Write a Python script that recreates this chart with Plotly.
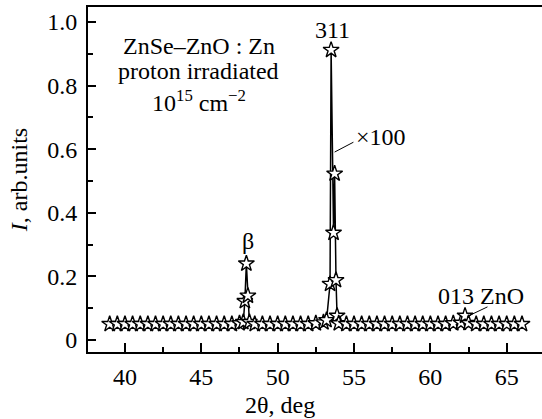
import plotly.graph_objects as go

# ---- data ----
theta = [39.0, 39.5, 40.0, 40.5, 41.0, 41.5, 42.0, 42.5, 43.0, 43.5, 44.0, 44.5,
         45.0, 45.5, 46.0, 46.5, 47.0, 47.5, 47.75, 47.85, 47.95, 48.05, 48.15,
         48.5, 49.0, 49.5, 50.0, 50.5, 51.0, 51.5, 52.0, 52.5, 53.0, 53.2,
         53.43, 53.5, 53.66, 53.73, 53.82, 53.89, 54.0, 54.5, 55.0, 55.5, 56.0,
         56.5, 57.0, 57.5, 58.0, 58.5, 59.0, 59.5, 60.0, 60.5, 61.0, 61.5, 62.0,
         62.27, 62.5, 63.0, 63.5, 64.0, 64.5, 65.0, 65.5, 66.0]
intensity = [0.050, 0.050, 0.050, 0.050, 0.050, 0.050, 0.050, 0.050, 0.050, 0.050, 0.050, 0.050,
             0.050, 0.050, 0.050, 0.050, 0.050, 0.052, 0.056, 0.122, 0.240, 0.139, 0.056,
             0.050, 0.050, 0.050, 0.050, 0.050, 0.050, 0.050, 0.050, 0.052, 0.055, 0.062,
             0.176, 0.912, 0.337, 0.523, 0.188, 0.076, 0.052, 0.050, 0.050, 0.050, 0.050,
             0.050, 0.050, 0.050, 0.050, 0.050, 0.050, 0.050, 0.050, 0.050, 0.050, 0.052, 0.054,
             0.076, 0.053, 0.050, 0.050, 0.050, 0.050, 0.050, 0.050, 0.050]

x_ticks = [40, 45, 50, 55, 60, 65]
y_ticks = [0, 0.2, 0.4, 0.6, 0.8, 1.0]
y_ticktext = ["0", "0.2", "0.4", "0.6", "0.8", "1.0"]

FONT = "'Liberation Serif', 'Times New Roman', Times, 'DejaVu Serif', serif"
FS = 24

fig = go.Figure()
fig.add_trace(go.Scatter(
    x=theta, y=intensity, mode="lines+markers",
    line=dict(color="black", width=1.5),
    marker=dict(symbol="star", size=12, color="white",
                line=dict(color="black", width=1.4)),
    showlegend=False, cliponaxis=False,
))

fig.update_xaxes(
    range=[37.58, 67.31], tickvals=x_ticks, ticks="inside", ticklen=9,
    tickwidth=1.5, tickcolor="black", ticklabelstandoff=2,
    minor=dict(dtick=2.5, tick0=40, ticks="inside", ticklen=5, tickwidth=1.5, tickcolor="black"),
    showline=True, linecolor="black", linewidth=2, mirror=True,
    showgrid=False, zeroline=False,
    tickfont=dict(family=FONT, size=FS, color="black"),
)
fig.update_yaxes(
    range=[-0.0379, 1.0473], tickvals=y_ticks, ticktext=y_ticktext,
    ticks="inside", ticklen=8, tickwidth=1.5, tickcolor="black", ticklabelstandoff=4,
    minor=dict(dtick=0.1, tick0=0, ticks="inside", ticklen=5, tickwidth=1.5, tickcolor="black"),
    showline=True, linecolor="black", linewidth=2, mirror=False,
    showgrid=False, zeroline=False,
    tickfont=dict(family=FONT, size=FS, color="black"),
)

def ann(text, x, y, **kw):
    d = dict(text=text, x=x, y=y, xref="x", yref="y", showarrow=False,
             xanchor="center", yanchor="middle",
             font=dict(family=FONT, size=FS, color="black"))
    d.update(kw)
    fig.add_annotation(**d)

ann("ZnSe–ZnO : Zn", 44.83, 0.925)
ann("proton irradiated", 44.83, 0.845)
ann("10<sup>15</sup> cm<sup>−2</sup>", 44.83, 0.752)
ann("311", 53.59, 0.975)
ann("β", 48.05, 0.312)
ann("×100", 56.77, 0.638)
ann("013 ZnO", 63.29, 0.139)

fig.add_shape(type="line", x0=53.73, y0=0.591, x1=54.96, y1=0.622, xref="x", yref="y",
              line=dict(color="black", width=1))
fig.add_shape(type="line", x0=62.5, y0=0.0757, x1=63.74, y1=0.104, xref="x", yref="y",
              line=dict(color="black", width=1))

fig.add_annotation(text="<i>I</i>, arb.units", x=-0.152, y=0.498, xref="paper", yref="paper",
                   xanchor="center", yanchor="middle",
                   textangle=-90, showarrow=False, font=dict(family=FONT, size=FS, color="black"))
fig.add_annotation(text="2θ, deg", x=0.423, y=-0.153, xref="paper", yref="paper",
                   xanchor="center", yanchor="middle",
                   showarrow=False, font=dict(family=FONT, size=FS, color="black"))

fig.update_layout(
    width=542, height=419,
    margin=dict(l=88, r=0, t=7, b=67),
    paper_bgcolor="white", plot_bgcolor="white",
    font=dict(family=FONT, size=FS, color="black"),
)

fig.write_html("out.html")
